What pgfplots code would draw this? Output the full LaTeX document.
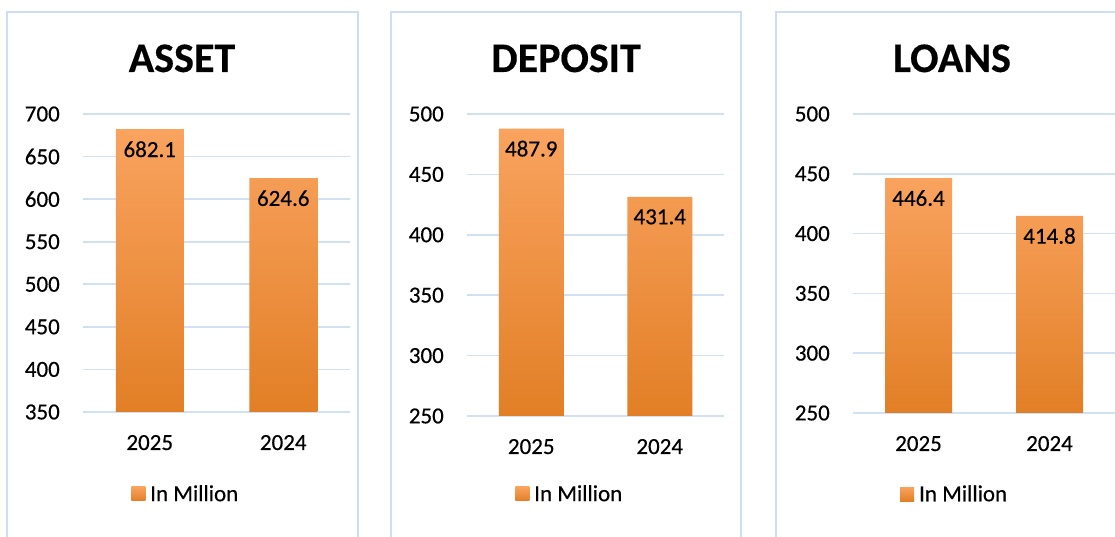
\documentclass[border=0pt]{standalone}
\usepackage{fontspec}
\setmainfont{Carlito}[FakeBold=0.4]
\usepackage{pgfplots}
\pgfplotsset{compat=1.18}
\definecolor{gridc}{HTML}{D2E0F4}
\definecolor{framec}{HTML}{CDDDF2}
\definecolor{bartop}{HTML}{F9A35F}
\definecolor{barmid}{HTML}{FF9633}
\definecolor{barbot}{HTML}{E27F26}
\pgfplotsset{
  panel/.style={
    scale only axis, ybar,
    xmin=-0.5, xmax=1.5, xtick={0,1}, xticklabels={2025,2024},
    axis line style={draw=none}, major tick length=0pt, tick style={draw=none},
    ymajorgrids, grid style={gridc, line width=1.6pt},
    /pgf/number format/assume math mode=true,
    ticklabel style={font=\fontsize{23}{27}\selectfont},
    yticklabel style={anchor=east, inner sep=0pt, xshift=-23pt},
    xticklabel style={anchor=base, inner sep=0pt, yshift=-38pt},
    point meta=explicit symbolic,
    nodes near coords={\pgfplotspointmeta},
    every node near coord/.append style={anchor=center, yshift=-20pt, inner sep=0pt, font=\fontsize{23}{27}\selectfont},
    legend style={draw=none, fill=none, inner sep=0pt, font=\fontsize{23}{27}\selectfont, nodes={inner sep=0pt}, anchor=west},
    legend image code/.code={\shade[top color=bartop, bottom color=barbot] (0pt,-7pt) rectangle (14pt,7pt); \path (0pt,0pt) -- (19pt,0pt);},
    y coord trafo/.code={\pgfmathparse{##1-\ybase}},
    y coord inv trafo/.code={\pgfmathparse{##1+\ybase}},
  },
  barstyle/.style={draw=none, top color=bartop, middle color=barmid, bottom color=barbot},
}
\begin{document}
\begin{tikzpicture}[x=1pt,y=1pt]
\path[use as bounding box] (0,0) rectangle (1115,537);
\clip (0,0) rectangle (1115,537);
\fill[white] (0,0) rectangle (1115,537);
\draw[framec, line width=1.5pt] (7,525) rectangle (358,-10);
\draw[framec, line width=1.5pt] (391,525) rectangle (741,-10);
\draw[framec, line width=1.5pt] (776,525) rectangle (1140,-10);
\node[anchor=base, font=\bfseries\fontsize{42}{48}\selectfont] at (182,465) {ASSET};
\node[anchor=base, font=\bfseries\fontsize{42}{48}\selectfont] at (566,465) {DEPOSIT};
\node[anchor=base, font=\bfseries\fontsize{42}{48}\selectfont] at (952,465) {LOANS};

\def\ybase{350}
\begin{axis}[panel, at={(83pt,125pt)}, anchor=south west, width=267pt, height=298pt,
  ymin=350, ymax=700, ytick={350,400,450,500,550,600,650,700}, bar width=68pt,
  legend style={at={(axis description cs:0.18,-0.275)}}]
\addplot[barstyle] coordinates {(0,682.1) [682.1] (1,624.6) [624.6]};
\addlegendentry{In Million}
\end{axis}

\def\ybase{250}
\begin{axis}[panel, at={(467pt,121pt)}, anchor=south west, width=257pt, height=302pt,
  ymin=250, ymax=500, ytick={250,300,350,400,450,500}, bar width=65pt,
  legend style={at={(axis description cs:0.187,-0.258)}}]
\addplot[barstyle] coordinates {(0,487.9) [487.9] (1,431.4) [431.4]};
\addlegendentry{In Million}
\end{axis}

\begin{axis}[panel, at={(853pt,124pt)}, anchor=south west, width=262pt, height=299pt,
  ymin=250, ymax=500, ytick={250,300,350,400,450,500}, bar width=67pt,
  legend style={at={(axis description cs:0.179,-0.271)}}]
\addplot[barstyle] coordinates {(0,446.4) [446.4] (1,414.8) [414.8]};
\addlegendentry{In Million}
\end{axis}
\end{tikzpicture}
\end{document}
